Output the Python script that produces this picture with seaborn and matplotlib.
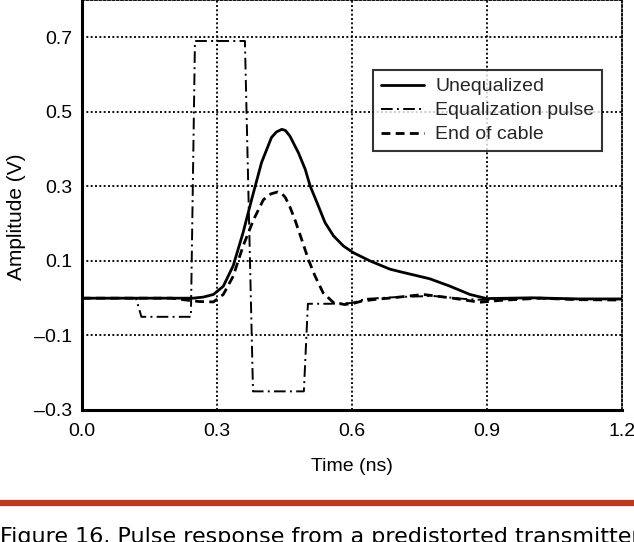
import numpy as np
import pandas as pd
import matplotlib
matplotlib.use("Agg")
import matplotlib.pyplot as plt
from matplotlib.lines import Line2D
import seaborn as sns

# ---- data ----
t_uneq = [0.0, 0.200, 0.247, 0.270, 0.292, 0.314, 0.336, 0.358, 0.377, 0.399, 0.421, 0.432,
          0.444, 0.452, 0.462, 0.481, 0.496, 0.507, 0.522, 0.540, 0.559, 0.581, 0.603,
          0.640, 0.684, 0.707, 0.773, 0.818, 0.862, 0.899, 0.950, 1.000, 1.100, 1.200]
v_uneq = [0.0, 0.0, 0.0, 0.003, 0.010, 0.032, 0.087, 0.176, 0.265, 0.364, 0.431, 0.446,
          0.453, 0.450, 0.435, 0.390, 0.346, 0.301, 0.257, 0.203, 0.167, 0.140, 0.122,
          0.100, 0.078, 0.071, 0.052, 0.032, 0.010, -0.001, 0.000, 0.001, -0.002, -0.002]

t_eq = [0.0, 0.120, 0.132, 0.242, 0.251, 0.362, 0.380, 0.493, 0.502, 0.550, 0.600,
        0.630, 0.700, 0.780, 0.850, 0.900, 1.000, 1.100, 1.200]
v_eq = [0.0, 0.0, -0.050, -0.050, 0.690, 0.690, -0.250, -0.250, -0.015, -0.015, -0.013,
        -0.002, 0.003, 0.006, -0.002, -0.005, 0.000, -0.002, -0.003]

t_cable = [0.0, 0.200, 0.225, 0.260, 0.292, 0.314, 0.336, 0.358, 0.381, 0.403, 0.420,
           0.435, 0.444, 0.452, 0.462, 0.473, 0.488, 0.503, 0.518, 0.536, 0.559, 0.584,
           0.603, 0.621, 0.654, 0.690, 0.758, 0.818, 0.884, 0.929, 1.018, 1.100, 1.200]
v_cable = [0.0, 0.0, -0.004, -0.009, -0.010, 0.010, 0.059, 0.140, 0.210, 0.264, 0.280,
           0.285, 0.281, 0.270, 0.245, 0.211, 0.158, 0.104, 0.059, 0.014, -0.012, -0.017,
           -0.014, -0.008, -0.003, 0.001, 0.010, 0.001, -0.011, -0.006, 0.000, -0.004, -0.005]

labels = ["Unequalized", "Equalization pulse", "End of cable"]
x_ticks = [0.0, 0.3, 0.6, 0.9, 1.2]
y_ticks = [-0.3, -0.1, 0.1, 0.3, 0.5, 0.7]
caption = "Figure 16. Pulse response from a predistorted transmitter"

sns.set_theme(style="white")
plt.rcParams["font.family"] = ["Liberation Sans", "DejaVu Sans"]

fig = plt.figure(figsize=(6.34, 5.42), dpi=100)
W, H = 634, 542
ax = fig.add_axes([82 / W, 1 - 410 / H, 540 / W, 410 / H])

df_u = pd.DataFrame({"t": t_uneq, "v": v_uneq})
df_e = pd.DataFrame({"t": t_eq, "v": v_eq})
df_c = pd.DataFrame({"t": t_cable, "v": v_cable})

sns.lineplot(data=df_u, x="t", y="v", ax=ax, color="black", lw=2.0,
             estimator=None, sort=False, label=labels[0])
sns.lineplot(data=df_e, x="t", y="v", ax=ax, color="black", lw=1.4,
             estimator=None, sort=False, label=labels[1])
ax.lines[-1].set_dashes((6, 2.2, 1, 2.2))
sns.lineplot(data=df_c, x="t", y="v", ax=ax, color="black", lw=2.0,
             estimator=None, sort=False, label=labels[2])
ax.lines[-1].set_dashes((3.2, 1.9))

ax.set_xlim(0, 1.2)
ax.set_ylim(-0.3, 0.8)
ax.set_xticks(x_ticks)
ax.set_xticklabels([f"{v:.1f}" for v in x_ticks])
ax.set_yticks(y_ticks)
ax.set_yticklabels([f"{v:.1f}".replace("-", "\u2013") for v in y_ticks])
ax.tick_params(axis="both", length=0, labelsize=14, colors="black")
ax.tick_params(axis="y", pad=7)
ax.tick_params(axis="x", pad=9)

grid_ls = (0, (1.1, 1.3))
for xv in [0.3, 0.6, 0.9]:
    ax.axvline(xv, color="black", lw=1.3, ls=grid_ls, zorder=0)
for yv in [-0.1, 0.1, 0.3, 0.5, 0.7]:
    ax.axhline(yv, color="black", lw=1.3, ls=grid_ls, zorder=0)

for s in ["left", "bottom"]:
    ax.spines[s].set_color("black")
    ax.spines[s].set_linewidth(2.2)
for s in ["top", "right"]:
    ax.spines[s].set_color("black")
    ax.spines[s].set_linewidth(1.3)
    ax.spines[s].set_linestyle(grid_ls)

ax.set_xlabel("Time (ns)", fontsize=14, color="black", labelpad=13)
ax.set_ylabel("Amplitude (V)", fontsize=15, color="black", labelpad=6)
ax.yaxis.label.set_y(1 - 217 / 410)

leg = ax.legend(loc="upper left", bbox_to_anchor=((373 - 82) / 540, 1 - 70 / 410),
                borderaxespad=0, frameon=True, fancybox=False, fontsize=14,
                handlelength=2.2, borderpad=0.4, labelspacing=0.33, handletextpad=0.6)
leg.get_frame().set_edgecolor("black")
leg.get_frame().set_linewidth(1.5)

# red rule and caption
fig.add_artist(Line2D([0, 1], [1 - 503 / H, 1 - 503 / H], color="#c2351f", lw=4.5,
                      transform=fig.transFigure))
fig.text(0.0, 1 - 527 / H, caption, fontsize=16, color="black", va="top", ha="left",
         family="DejaVu Sans")

fig.savefig("out.png", dpi=100)
